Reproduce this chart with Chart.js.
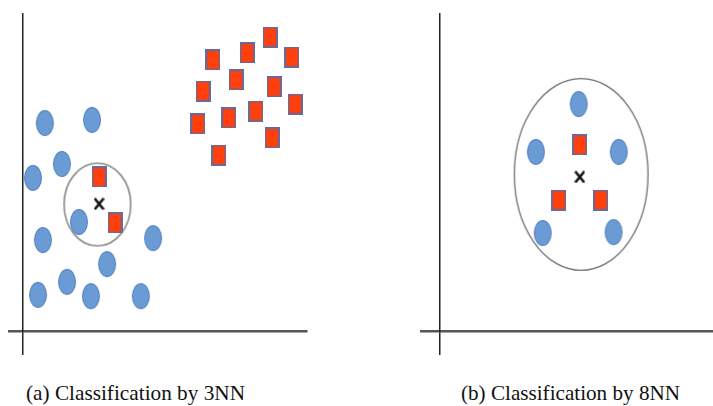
<!DOCTYPE html>
<html>
<head>
<meta charset="utf-8">
<script src="https://cdn.jsdelivr.net/npm/chart.js@4.4.1/dist/chart.umd.min.js"></script>
<style>
  body { margin: 0; background: #fff; width: 713px; height: 406px; overflow: hidden; position: relative; }
  canvas { position: absolute; top: 0; }
  #left { left: 0; }
  #right { left: 356px; }
  .cap { position: absolute; top: 381px; font-family: "Liberation Serif", "DejaVu Serif", "Noto Serif", "Times New Roman", Times, serif; font-size: 22px; line-height: 24px; color: #111; white-space: nowrap; transform-origin: left top; }
</style>
</head>
<body>
<canvas id="left" width="356" height="360"></canvas>
<canvas id="right" width="357" height="360"></canvas>
<div class="cap" style="left:26px">(a) Classification by 3NN</div>
<div class="cap" style="left:461px">(b) Classification by 8NN</div>
<script>
// (a) 3NN panel - values in plot units (0..10)
const leftBlueX = [0.77, 2.43, 1.37, 0.35, 1.97, 0.70, 4.58, 2.96, 1.55, 0.53, 2.39, 4.15];
const leftBlueY = [6.56, 6.66, 5.27, 4.83, 3.44, 2.87, 2.93, 2.11, 1.55, 1.14, 1.10, 1.10];
const leftRedX = [8.70, 7.89, 6.69, 9.47, 7.50, 8.84, 6.34, 9.58, 7.25, 8.20, 6.16, 8.77, 6.90, 2.68, 3.24];
const leftRedY = [9.27, 8.77, 8.55, 8.64, 7.92, 7.70, 7.57, 7.16, 6.72, 6.94, 6.53, 6.09, 5.55, 4.86, 3.41];
const leftQuery = [2.68, 4.01];
const leftRing = [2.62, 3.99];

// (b) 8NN panel
const rightBlueX = [5.09, 3.52, 6.56, 3.77, 6.37];
const rightBlueY = [7.16, 5.65, 5.65, 3.09, 3.12];
const rightRedX = [5.13, 4.36, 5.90];
const rightRedY = [5.87, 4.13, 4.13];
const rightQuery = [5.13, 4.86];
const rightRing = [5.18, 4.94];

function pts(xs, ys) {
  return xs.map((x, i) => ({ x: x, y: ys[i] }));
}

// small offscreen pictures used as point styles
function ellipseImg(w, h, fill, stroke, lw) {
  const c = document.createElement('canvas');
  c.width = w + 2; c.height = h + 2;
  const g = c.getContext('2d');
  g.beginPath();
  g.ellipse(c.width / 2, c.height / 2, w / 2 - lw / 2, h / 2 - lw / 2, 0, 0, Math.PI * 2);
  if (fill) { g.fillStyle = fill; g.fill(); }
  g.lineWidth = lw; g.strokeStyle = stroke; g.stroke();
  return c;
}
function rectImg(w, h, fill, stroke, lw) {
  const c = document.createElement('canvas');
  c.width = w; c.height = h;
  const g = c.getContext('2d');
  g.fillStyle = fill; g.fillRect(0, 0, w, h);
  g.lineWidth = lw; g.strokeStyle = stroke;
  g.strokeRect(lw / 2, lw / 2, w - lw, h - lw);
  return c;
}
function crossImg(w, h) {
  const c = document.createElement('canvas');
  c.width = w; c.height = h;
  const g = c.getContext('2d');
  g.strokeStyle = '#111'; g.lineWidth = 2.6;
  g.beginPath();
  g.moveTo(1, 1); g.lineTo(w - 1, h - 1);
  g.moveTo(w - 1, 1); g.lineTo(1, h - 1);
  g.stroke();
  return c;
}

const dotImg = ellipseImg(18, 26, '#6b9bd4', '#5a86c3', 1.2);
const boxImg = rectImg(15, 21, '#ff3f0c', '#5b6fa6', 1.5);
const xImg = crossImg(11, 13);

function datasets(bx, by, rx, ry, q, ring, ringImg) {
  return [
    { data: [{ x: q[0], y: q[1] }], pointStyle: xImg },
    { data: pts(rx, ry), pointStyle: boxImg },
    { data: pts(bx, by), pointStyle: dotImg },
    { data: [{ x: ring[0], y: ring[1] }], pointStyle: ringImg }
  ];
}

function axes(xTick, yTick) {
  return {
    x: {
      type: 'linear', min: 0, max: 10,
      ticks: { display: false, stepSize: 10 },
      grid: {
        drawOnChartArea: false, drawTicks: true, tickLength: xTick, lineWidth: 1.5,
        color: c => (c.tick && c.tick.value === 0) ? '#222' : 'rgba(0,0,0,0)'
      },
      border: { display: true, color: '#555', width: 2.5 }
    },
    y: {
      type: 'linear', min: 0, max: 10,
      ticks: { display: false, stepSize: 10 },
      grid: {
        drawOnChartArea: false, drawTicks: true, tickLength: yTick, lineWidth: 2.5,
        color: c => (c.tick && c.tick.value === 0) ? '#555' : 'rgba(0,0,0,0)'
      },
      border: { display: true, color: '#222', width: 1.5 }
    }
  };
}

function panel(id, sets, padding, xTick, yTick) {
  return new Chart(document.getElementById(id), {
    type: 'scatter',
    data: {
      datasets: sets.map(s => Object.assign({
        clip: false, pointRadius: 0.5, pointHoverRadius: 0.5, pointBorderWidth: 0, pointHoverBorderWidth: 0
      }, s))
    },
    options: {
      responsive: false,
      animation: false,
      events: [],
      layout: { padding: padding },
      plugins: { legend: { display: false }, tooltip: { enabled: false } },
      scales: axes(xTick, yTick)
    }
  });
}

panel('left',
  datasets(leftBlueX, leftBlueY, leftRedX, leftRedY, leftQuery, leftRing, ellipseImg(68, 84, null, '#6f6f6f', 1.3)),
  { left: 8, right: 49, top: 14, bottom: 5 }, 24, 15);

panel('right',
  datasets(rightBlueX, rightBlueY, rightRedX, rightRedY, rightQuery, rightRing, ellipseImg(135, 193, null, '#6f6f6f', 1.3)),
  { left: 64, right: 0, top: 14, bottom: 5 }, 24, 20);

// squeeze each caption to the width it has in the picture
document.querySelectorAll('.cap').forEach(el => {
  const w = el.getBoundingClientRect().width;
  el.style.transform = 'scaleX(' + (219 / w) + ')';
});
</script>
</body>
</html>
